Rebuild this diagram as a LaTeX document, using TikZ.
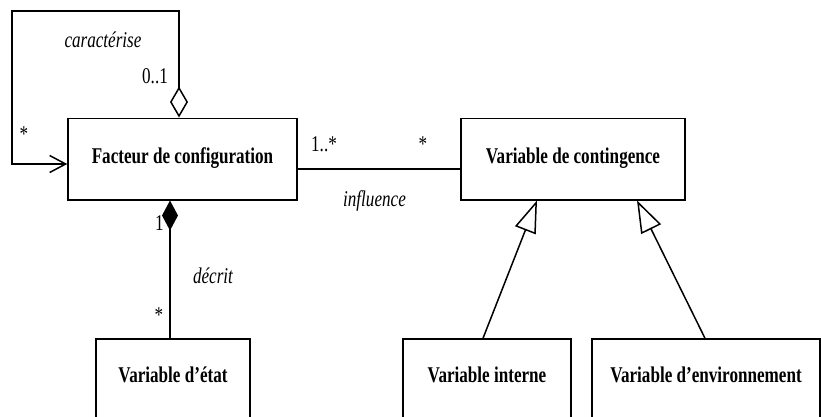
\documentclass[tikz,border=0pt]{standalone}
\usepackage{fontspec}
\setmainfont{Liberation Serif}[FakeStretch=0.76]
\usetikzlibrary{arrows.meta}
\begin{document}
\begin{tikzpicture}[x=1pt,y=-1pt,
  cls/.style={draw, line width=1.5pt, inner sep=0pt, font=\fontsize{22.5}{26}\selectfont\bfseries},
  topcls/.style={cls, minimum height=81.5pt, text height=17pt, text depth=9pt},
  botcls/.style={cls, minimum height=86pt, text height=13pt, text depth=13pt},
  conn/.style={line width=1.5pt},
  lbl/.style={font=\fontsize{22.5}{26}\selectfont, inner sep=0pt, anchor=base},
  ilbl/.style={lbl, font=\fontsize{22.5}{26}\selectfont\itshape},
  inh/.style={conn, -{Triangle[open, length=32pt, width=22pt]}}]
\useasboundingbox (0,0) rectangle (821,416);
\clip (0,0) rectangle (821,416);
\node[topcls, minimum width=229pt] (fc) at (182.5,159) {Facteur de configuration};
\node[topcls, minimum width=224pt] (vc) at (573,159) {Variable de contingence};
\node[botcls, minimum width=154pt] (ve) at (173,382) {Variable d’état};
\node[botcls, minimum width=168pt] (vi) at (487,382) {Variable interne};
\node[botcls, minimum width=228pt] (venv) at (706,382) {Variable d’environnement};
% self association
\draw[conn, {Diamond[open, length=31pt, width=18pt]}-{Straight Barb[length=16pt, width=17pt]}]
  ([xshift=-3.5pt]fc.north) |- (12,11) |- ([yshift=-5pt]fc.west);
% composition
\draw[conn, {Diamond[length=30pt, width=16pt]}-] ([xshift=-12.5pt]fc.south) -- ([xshift=-12.5pt]fc.south |- ve.north);
% association
\draw[conn] ([yshift=-10pt]fc.east) -- ([yshift=-10pt]vc.west);
% inheritance
\draw[inh] ([xshift=-4pt]vi.north) -- ([xshift=-36pt]vc.south);
\draw[inh] ([xshift=-1pt]venv.north) -- ([xshift=64pt]vc.south);
% labels
\node[ilbl] (lcar) at (103,47.5) {caractérise};
\node[lbl] (l01) at (155,83.5) {0..1};
\node[lbl] (ls1) at (24,141.5) {*};
\node[lbl] (l1) at (159.5,230) {1};
\node[ilbl] (ldec) at (213,283) {décrit};
\node[lbl] (ls2) at (159,322) {*};
\node[lbl] (l1s) at (324,151) {1..*};
\node[lbl] (ls3) at (423,151) {*};
\node[ilbl] (linf) at (374.5,206) {influence};
\end{tikzpicture}
\end{document}
